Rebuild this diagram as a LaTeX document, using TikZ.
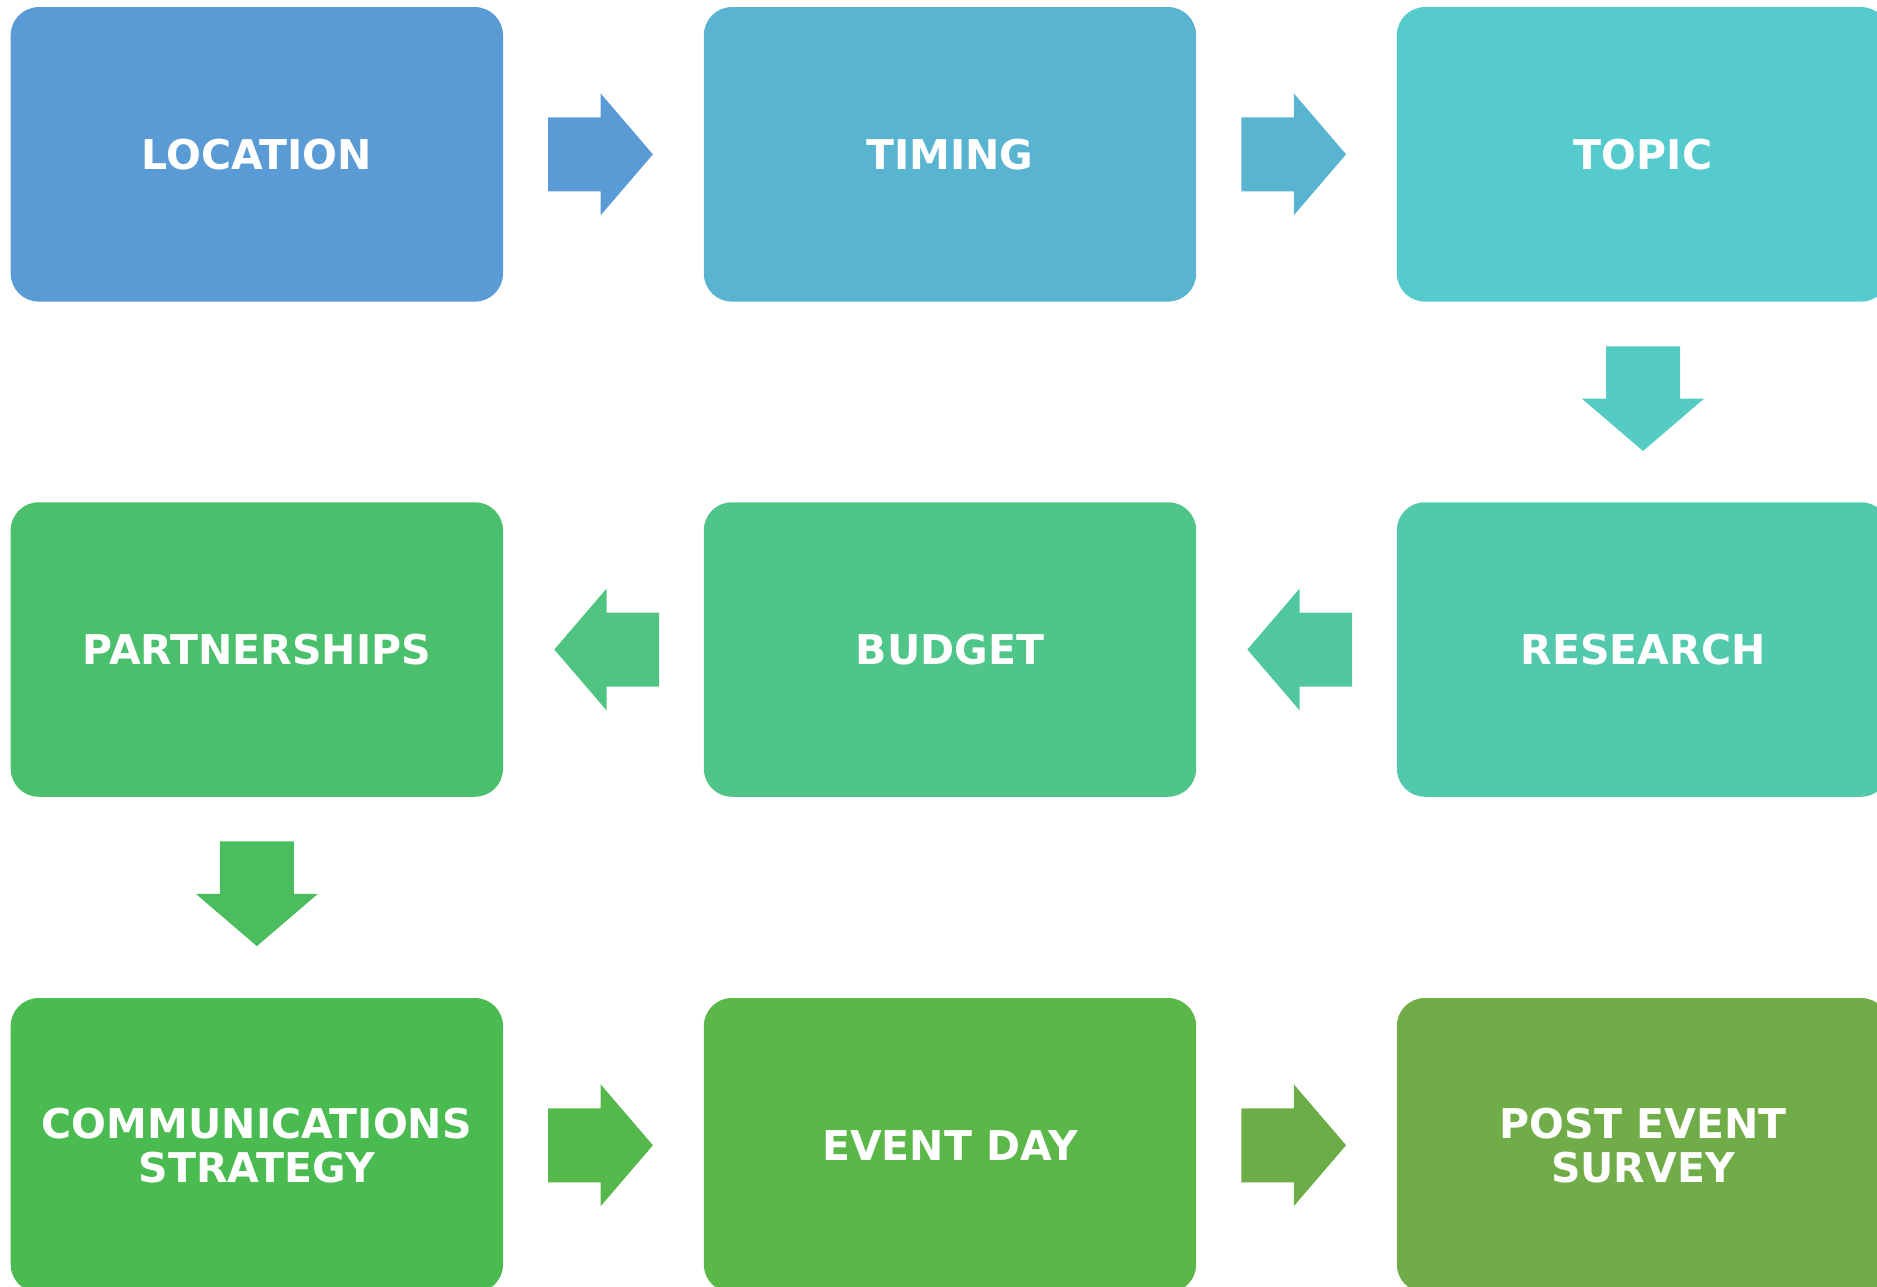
\documentclass[tikz,border=0pt]{standalone}
\usepackage{fontspec}
\setmainfont{DejaVu Sans}
\usetikzlibrary{calc}
\definecolor{cloc}{HTML}{5B9BD5}
\definecolor{ctim}{HTML}{58B4D0}
\definecolor{ctop}{HTML}{55CBCD}
\definecolor{cres}{HTML}{52C9AD}
\definecolor{cbud}{HTML}{50C589}
\definecolor{cpar}{HTML}{4BC06C}
\definecolor{ccom}{HTML}{4ABB50}
\definecolor{cevt}{HTML}{5BB748}
\definecolor{cpst}{HTML}{70AC48}
\definecolor{aone}{HTML}{5B9BD5}
\definecolor{atwo}{HTML}{58B4D0}
\definecolor{athree}{HTML}{54CCC4}
\definecolor{afour}{HTML}{51C7A0}
\definecolor{afive}{HTML}{4EC480}
\definecolor{asix}{HTML}{4BBD5E}
\definecolor{aseven}{HTML}{55B84A}
\definecolor{aeight}{HTML}{6DAD48}
\tikzset{
  stepbox/.style={rounded corners=28pt, minimum width=492.3pt, minimum height=294.5pt,
    inner sep=0pt, text=white, align=center,
    font=\bfseries\fontsize{41}{44}\selectfont},
}
\newcommand\blockarrow[3]{% start coordinate, rotation, colour
  \fill[#3, shift={(#1)}, rotate=#2]
    (0,-37) -- (52.4,-37) -- (52.4,-61) -- (104.7,0) -- (52.4,61) -- (52.4,37) -- (0,37) -- cycle;}
\begin{document}
\begin{tikzpicture}[x=1pt,y=-1pt]
\useasboundingbox (0,0) rectangle (1877,1287);
\node[stepbox, fill=cloc] (loc) at (256.85,154.35) {LOCATION};
\node[stepbox, fill=ctim] (tim) at (950,154.35) {TIMING};
\node[stepbox, fill=ctop] (top) at (1643,154.35) {TOPIC};
\node[stepbox, fill=cres] (res) at (1643,649.5) {RESEARCH};
\node[stepbox, fill=cbud] (bud) at (950,649.5) {BUDGET};
\node[stepbox, fill=cpar] (par) at (256.85,649.5) {PARTNERSHIPS};
\node[stepbox, fill=ccom] (com) at (256.85,1145.25) {COMMUNICATIONS\\STRATEGY};
\node[stepbox, fill=cevt] (evt) at (950,1145.25) {EVENT DAY};
\node[stepbox, fill=cpst] (pst) at (1643,1145.25) {POST EVENT\\SURVEY};
\coordinate (s1) at ($(loc.east)+(45,0)$);
\coordinate (s2) at ($(tim.east)+(45,0)$);
\coordinate (s3) at ($(top.south)+(0,44.5)$);
\coordinate (s4) at ($(res.west)+(-44.6,0)$);
\coordinate (s5) at ($(bud.west)+(-44.6,0)$);
\coordinate (s6) at ($(par.south)+(0,44.5)$);
\coordinate (s7) at ($(com.east)+(45,0)$);
\coordinate (s8) at ($(evt.east)+(45,0)$);
\blockarrow{s1}{0}{aone}
\blockarrow{s2}{0}{atwo}
\blockarrow{s3}{-90}{athree}
\blockarrow{s4}{180}{afour}
\blockarrow{s5}{180}{afive}
\blockarrow{s6}{-90}{asix}
\blockarrow{s7}{0}{aseven}
\blockarrow{s8}{0}{aeight}
\end{tikzpicture}
\end{document}
